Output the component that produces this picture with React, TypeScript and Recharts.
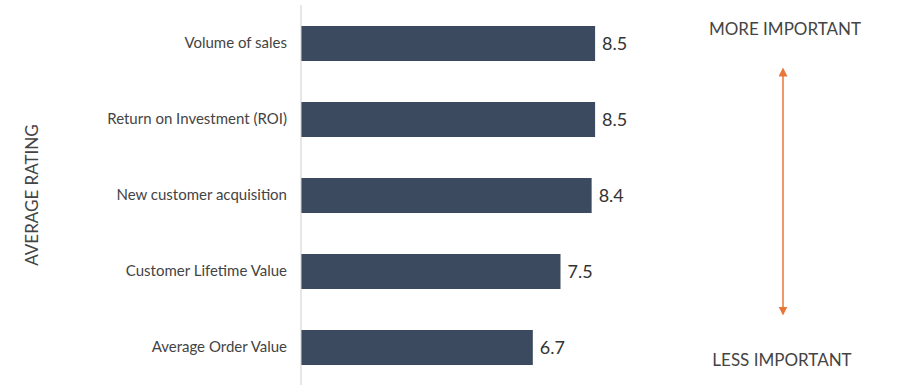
import React from 'react';
import {
    BarChart,
    Bar,
    XAxis,
    YAxis,
    LabelList,
    Label,
    Customized,
} from 'recharts';

document.body.style.margin = '0';

const metrics = [
    'Volume of sales',
    'Return on Investment (ROI)',
    'New customer acquisition',
    'Customer Lifetime Value',
    'Average Order Value',
];
const ratings = [8.5, 8.5, 8.4, 7.5, 6.7];
const ratingTicks = [0, 2, 4, 6, 8, 10];

const data = metrics.map((name, i) => ({ name, rating: ratings[i] }));

const FONT = 'Lato, "Open Sans", sans-serif';
const TEXT = '#444';
const BAR = '#3b4a5f';
const ORANGE = '#e8763a';

const ImportanceScale = () => {
    const x = 783;
    return (
        <g>
            <defs>
                <marker id="arrowHead" viewBox="0 0 10 10" refX="5" refY="5" markerWidth="6" markerHeight="6" orient="auto-start-reverse">
                    <path d="M0,0 L10,5 L0,10 z" fill={ORANGE} />
                </marker>
            </defs>
            <text x={785} y={35} textAnchor="middle" fill={TEXT} fontFamily={FONT} fontSize={17}>
                MORE IMPORTANT
            </text>
            <line x1={x} y1={72} x2={x} y2={311} stroke={ORANGE} strokeWidth={1.5} markerStart="url(#arrowHead)" markerEnd="url(#arrowHead)" />
            <text x={782} y={366} textAnchor="middle" fill={TEXT} fontFamily={FONT} fontSize={17}>
                LESS IMPORTANT
            </text>
        </g>
    );
};

const App: React.FC = () => {
    return (
        <BarChart
            width={897}
            height={390}
            data={data}
            layout="vertical"
            margin={{ top: 5, right: 250, bottom: 5, left: 0 }}
            barCategoryGap={41}
        >
            <XAxis type="number" domain={[0, 10]} ticks={ratingTicks} hide />
            <YAxis
                type="category"
                dataKey="name"
                width={301}
                tickLine={false}
                axisLine={{ stroke: '#cfcfcf' }}
                tickMargin={8}
                tick={{ fill: TEXT, fontSize: 15, fontFamily: FONT }}
            >
                <Label
                    value="AVERAGE RATING"
                    angle={-90}
                    position="insideLeft"
                    offset={32}
                    style={{ fill: TEXT, fontSize: 17, fontFamily: FONT, textAnchor: 'middle' }}
                />
            </YAxis>
            <Bar dataKey="rating" fill={BAR} barSize={35} isAnimationActive={false}>
                <LabelList
                    dataKey="rating"
                    position="right"
                    offset={7}
                    formatter={(v: number) => v.toFixed(1)}
                    style={{ fill: '#333', fontSize: 18, fontFamily: FONT }}
                />
            </Bar>
            <Customized component={ImportanceScale} />
        </BarChart>
    );
};

export default App;
